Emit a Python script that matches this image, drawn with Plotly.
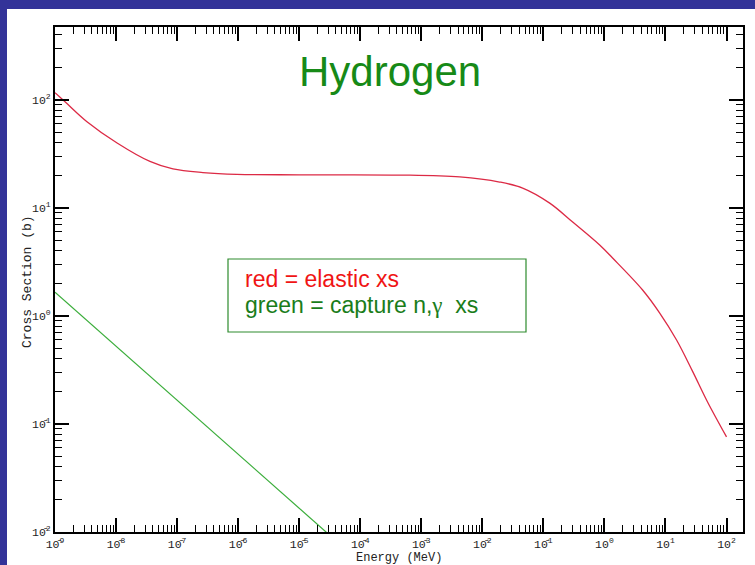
import plotly.graph_objects as go

# Elastic scattering cross section of hydrogen (MeV, barns)
elastic_energy = [1.0e-9, 1.46e-9, 3.34e-9, 1.04e-8, 3.59e-8, 8.55e-8, 2.65e-7,
                  9.5e-7, 1.0e-5, 4.4e-4, 4.27e-3, 1.92e-2, 4.58e-2, 0.127,
                  0.302, 0.836, 1.36, 4.22, 8.0, 15.2, 27.7, 48.9, 100.0]
elastic_xs = [117.0, 96.4, 63.0, 40.0, 27.0, 23.0, 21.3,
              20.5, 20.3, 20.2, 19.4, 17.4, 15.3, 11.1,
              7.41, 4.54, 3.44, 1.74, 1.07, 0.60, 0.309, 0.160, 0.076]

# Radiative capture (n,gamma) cross section, 1/v behaviour
capture_energy = [1.0e-9, 1.0e-8, 1.0e-7, 1.0e-6, 1.0e-5, 1.0e-4]
capture_xs = [1.66, 0.525, 0.166, 0.0525, 0.0166, 0.00525]

x_tickvals = [1e-9, 1e-8, 1e-7, 1e-6, 1e-5, 1e-4, 1e-3, 1e-2, 1e-1, 1e0, 1e1, 1e2]
x_ticktext = ["10\u0304<sup>9</sup>", "10\u0304<sup>8</sup>", "10\u0304<sup>7</sup>",
              "10\u0304<sup>6</sup>", "10\u0304<sup>5</sup>", "10\u0304<sup>4</sup>",
              "10\u0304<sup>3</sup>", "10\u0304<sup>2</sup>", "10\u0304<sup>1</sup>",
              "10<sup>0</sup>", "10<sup>1</sup>", "10<sup>2</sup>"]
y_tickvals = [1e-2, 1e-1, 1e0, 1e1, 1e2]
y_ticktext = ["10\u0304<sup>2</sup>", "10\u0304<sup>1</sup>", "10<sup>0</sup>",
              "10<sup>1</sup>", "10<sup>2</sup>"]

W, H = 755, 565
ML, MR, MT, MB = 55, 12, 27, 33
PW, PH = W - ML - MR, H - MT - MB


def px(x):
    return (x - ML) / PW


def py(y):
    return (H - MB - y) / PH


BLUE = "#333399"
MONO = "Liberation Mono, DejaVu Sans Mono, monospace"
SANS = "Liberation Sans, Arial, sans-serif"

fig = go.Figure()
fig.add_trace(go.Scatter(x=elastic_energy, y=elastic_xs, mode="lines",
                         line=dict(color="#dc2a45", width=1.3, shape="spline",
                                   smoothing=1.0),
                         showlegend=False))
fig.add_trace(go.Scatter(x=capture_energy, y=capture_xs, mode="lines",
                         line=dict(color="#3aad3a", width=1.2),
                         showlegend=False))

axis_common = dict(
    type="log", showgrid=False, zeroline=False,
    showline=True, linecolor="black", linewidth=2, mirror="ticks",
    ticks="inside", ticklen=14, tickwidth=1.5, tickcolor="black",
    tickfont=dict(family=MONO, size=11.5, color="#222222"),
    minor=dict(ticks="inside", ticklen=7, tickwidth=1.2, tickcolor="black",
               dtick="D1", showgrid=False),
    tickmode="array",
)

fig.update_xaxes(**axis_common, range=[-9, 2.27],
                 tickvals=x_tickvals, ticktext=x_ticktext)
fig.update_yaxes(**axis_common, range=[-2, 2.676],
                 tickvals=y_tickvals, ticktext=y_ticktext)

shapes = [
    # blue frame strips on the left and top
    dict(type="rect", xref="paper", yref="paper", layer="below",
         x0=px(0), x1=px(7), y0=py(H), y1=py(0), fillcolor=BLUE, line_width=0),
    dict(type="rect", xref="paper", yref="paper", layer="below",
         x0=px(0), x1=px(W), y0=py(9), y1=py(0), fillcolor=BLUE, line_width=0),
    # key box
    dict(type="rect", xref="paper", yref="paper",
         x0=px(228), x1=px(526), y0=py(332), y1=py(259),
         line=dict(color="#2e8b2e", width=1.2), fillcolor="rgba(0,0,0,0)"),
]

annotations = [
    dict(text="Hydrogen", x=px(390), y=py(72), xref="paper", yref="paper",
         showarrow=False, xanchor="center", yanchor="middle",
         font=dict(family=SANS, size=42, color="#178a17")),
    dict(text="red = elastic xs", x=px(243), y=py(279), xref="paper", yref="paper",
         showarrow=False, xanchor="left", yanchor="middle",
         font=dict(family=SANS, size=23, color="#f01414")),
    dict(text="green = capture n,<span style=\"font-family:Liberation Serif, serif\">\u03b3</span>\u00a0\u00a0xs",
         x=px(243), y=py(305), xref="paper", yref="paper",
         showarrow=False, xanchor="left", yanchor="middle",
         font=dict(family=SANS, size=23, color="#1a7d1a")),
    dict(text="Energy (MeV)", x=px(399), y=py(558), xref="paper", yref="paper",
         showarrow=False, xanchor="center", yanchor="middle",
         font=dict(family=MONO, size=12, color="#222222")),
    dict(text="Cross Section (b)", x=px(27), y=py(282), xref="paper", yref="paper",
         showarrow=False, xanchor="center", yanchor="middle", textangle=-90,
         font=dict(family=MONO, size=13, color="#222222")),
]

fig.update_layout(
    width=W, height=H,
    margin=dict(l=ML, r=MR, t=MT, b=MB, autoexpand=False),
    paper_bgcolor="white", plot_bgcolor="white",
    shapes=shapes, annotations=annotations,
)

fig.write_html("out.html")
